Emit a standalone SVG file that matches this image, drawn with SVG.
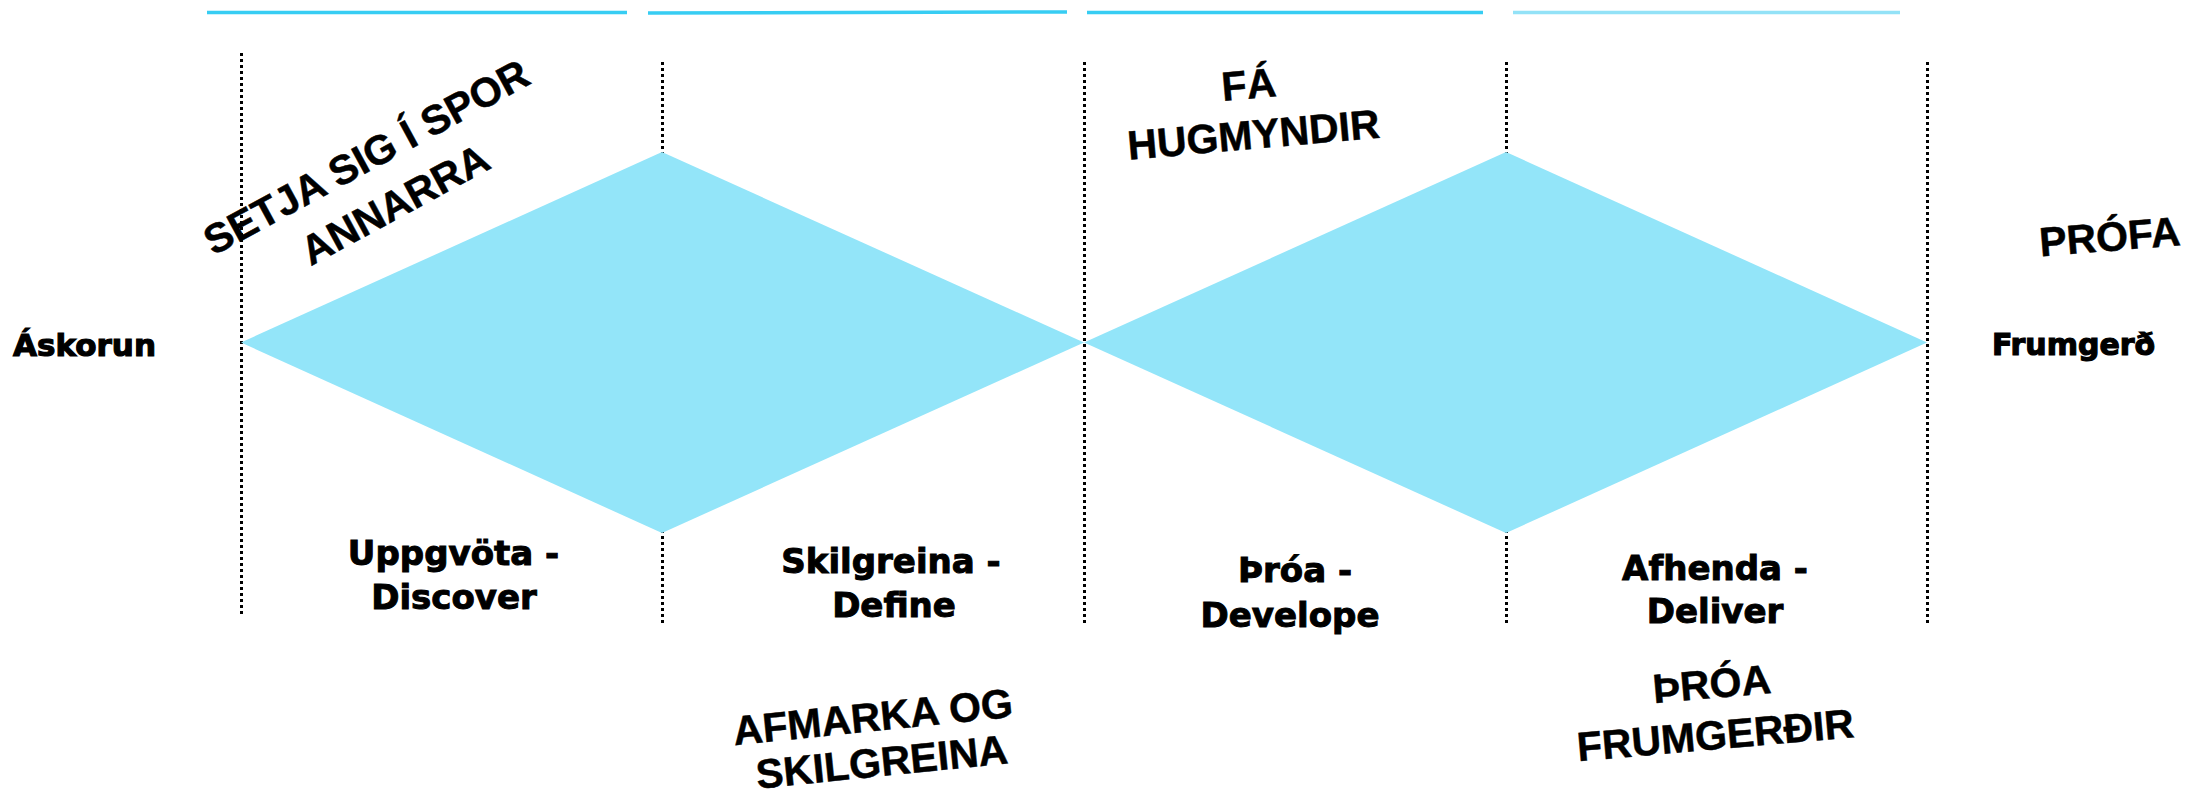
<svg xmlns="http://www.w3.org/2000/svg" width="2190" height="795" viewBox="0 0 2190 795">
<style>
.bar{stroke:#37cdf3;stroke-width:3.5;fill:none}
.bar2{stroke:#93e2f7;stroke-width:3.5;fill:none}
.dot{stroke:#000;stroke-width:3;stroke-dasharray:3 3;fill:none}
.dia{fill:#93e5f9;stroke:none}
.end{font-family:"DejaVu Sans",sans-serif;font-weight:bold;fill:#000;stroke:#000;stroke-width:1.2}
.ph{font-family:"DejaVu Sans",sans-serif;font-weight:bold;font-size:34px;fill:#000;stroke:#000;stroke-width:1;text-anchor:middle}
.up{font-family:"Liberation Sans",Arial,sans-serif;font-weight:bold;font-size:41px;fill:#000;stroke:#000;stroke-width:0.5;text-anchor:middle}
</style>
<rect width="2190" height="795" fill="#fff"/>
<g id="connectors">
<line class="bar" x1="207" y1="12.5" x2="627" y2="12.5"/>
<line class="bar" x1="648" y1="13" x2="1067" y2="12"/>
<line class="bar" x1="1087" y1="12.5" x2="1483" y2="12.5"/>
<line class="bar2" x1="1513" y1="12.5" x2="1900" y2="12.5"/>
<line class="dot" x1="241.5" y1="53" x2="241.5" y2="614"/>
<line class="dot" x1="662.5" y1="62" x2="662.5" y2="623"/>
<line class="dot" x1="1084.5" y1="62" x2="1084.5" y2="623"/>
<line class="dot" x1="1506.5" y1="62" x2="1506.5" y2="623"/>
<line class="dot" x1="1927.5" y1="62" x2="1927.5" y2="623"/>
</g>
<g id="diamond1"><polygon class="dia" points="241,342.5 662,152 1084,342.5 662,533"/></g>
<g id="diamond2"><polygon class="dia" points="1084,342.5 1506,152 1927,342.5 1506,533"/></g>
<g id="askorun"><text class="end" x="13" y="356" font-size="31">Áskorun</text></g>
<g id="frumgerd"><text class="end" x="1992" y="355" font-size="30">Frumgerð</text></g>
<g id="discover">
<text class="ph" x="453.5" y="565">Uppgvöta -</text>
<text class="ph" x="454" y="609">Discover</text>
</g>
<g id="define">
<text class="ph" x="891" y="573">Skilgreina -</text>
<text class="ph" x="894" y="617">Define</text>
</g>
<g id="develope">
<text class="ph" x="1295" y="582">Þróa -</text>
<text class="ph" x="1290" y="627">Develope</text>
</g>
<g id="deliver">
<text class="ph" x="1715" y="580">Afhenda -</text>
<text class="ph" x="1715" y="623">Deliver</text>
</g>
<g id="setja">
<text class="up" transform="translate(373,169.5) rotate(-28.5)">SETJA SIG Í SPOR</text>
<text class="up" transform="translate(401.7,216.7) rotate(-28.5)">ANNARRA</text>
</g>
<g id="hugmyndir">
<text class="up" transform="translate(1250,98.5) rotate(-5)">FÁ</text>
<text class="up" transform="translate(1254.7,148.7) rotate(-5)">HUGMYNDIR</text>
</g>
<g id="profa">
<text class="up" transform="translate(2110.8,250.8) rotate(-4.7)">PRÓFA</text>
</g>
<g id="afmarka">
<text class="up" transform="translate(874.2,731) rotate(-5.8)">AFMARKA OG</text>
<text class="up" transform="translate(883.3,776) rotate(-5.8)">SKILGREINA</text>
</g>
<g id="throa">
<text class="up" transform="translate(1713,698) rotate(-5)">ÞRÓA</text>
<text class="up" transform="translate(1716.7,749.2) rotate(-5)">FRUMGERÐIR</text>
</g>
</svg>
